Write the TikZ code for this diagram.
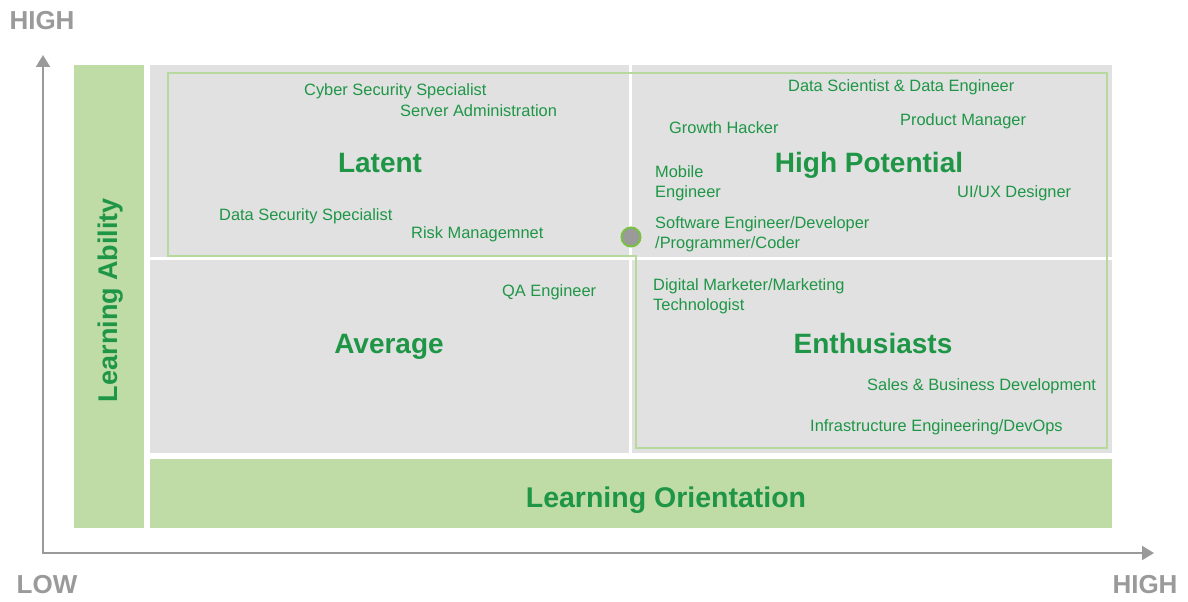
\documentclass[tikz,border=0pt]{standalone}
\usepackage{fontspec}
\setmainfont{Liberation Sans}
\usetikzlibrary{arrows.meta}
\definecolor{txtgreen}{HTML}{1E9646}
\definecolor{barfill}{HTML}{BFDBA6}
\definecolor{quadgray}{HTML}{E1E1E1}
\definecolor{outlinegreen}{HTML}{B7D99E}
\definecolor{axisgray}{HTML}{9A9A9A}
\definecolor{dotgreen}{HTML}{7AC143}
\tikzset{
  quad/.style={fill=quadgray, draw=none},
  bar/.style={fill=barfill, draw=none},
  role/.style={anchor=base west, inner sep=0pt, text=txtgreen, font=\fontsize{16.4}{19.5}\selectfont, align=left},
  qtitle/.style={anchor=base, inner sep=0pt, text=txtgreen, font=\fontsize{28}{30}\selectfont\bfseries},
  axtitle/.style={inner sep=0pt, text=txtgreen, font=\fontsize{27}{30}\selectfont\bfseries},
  axlabel/.style={inner sep=0pt, text=axisgray, font=\fontsize{26}{28}\selectfont\bfseries},
  axisline/.style={draw=axisgray, line width=2pt, {Triangle[width=14pt,length=12pt]}-{Triangle[width=14pt,length=12pt]}},
}
\begin{document}
\begin{tikzpicture}[x=1pt,y=-1pt]
\useasboundingbox (0,0) rectangle (1188,602);
% bars
\fill[bar] (74,65) rectangle (144,528);
\fill[bar] (150,459) rectangle (1112,528);
% quadrants
\fill[quad] (150,65) rectangle (629,257);
\fill[quad] (632,65) rectangle (1112,257);
\fill[quad] (150,260) rectangle (629,453);
\fill[quad] (632,260) rectangle (1112,453);
% outline
\draw[outlinegreen, line width=2pt] (168,73) -- (1107,73) -- (1107,448) -- (636,448) -- (636,256) -- (168,256) -- cycle;
% axes
\coordinate (ytip) at (43,55);
\coordinate (origin) at (43,553);
\coordinate (xtip) at (1154,553);
\draw[axisline] (ytip) -- (origin) -- (xtip);
\node[axlabel] (hy) at (42,21) {HIGH};
\node[axlabel] (lo) at (47,585) {LOW};
\node[axlabel] (hx) at (1145,585) {HIGH};
% axis titles
\node[axtitle, rotate=90] (la) at (111,300) {Learning Ability};
\node[axtitle, anchor=base, font=\fontsize{28.5}{30}\selectfont\bfseries] (lor) at (666,507) {Learning Orientation};
% quadrant titles
\node[qtitle] (lat) at (380,172) {Latent};
\node[qtitle] (hp) at (869,172) {High Potential};
\node[qtitle] (avg) at (389,353) {Average};
\node[qtitle] (ent) at (873,353) {Enthusiasts};
% roles
\node[role] (r1) at (304,95) {Cyber Security Specialist};
\node[role] (r2) at (400,116) {Server Administration};
\node[role] (r3) at (219,220) {Data Security Specialist};
\node[role] (r4) at (411,238) {Risk Managemnet};
\node[role] (r5) at (788,92) {Data Scientist \& Data Engineer};
\node[role] (r6) at (669,133) {Growth Hacker};
\node[role] (r7) at (900,125) {Product Manager};
\node[role] (r8) at (655,197) {Mobile\\Engineer};
\node[role] (r9) at (957,197) {UI/UX Designer};
\node[role] (r10) at (655,248) {Software Engineer/Developer\\/Programmer/Coder};
\node[role] (r11) at (502,296) {QA Engineer};
\node[role] (r12) at (653,310) {Digital Marketer/Marketing\\Technologist};
\node[role] (r13) at (867,390) {Sales \& Business Development};
\node[role] (r14) at (810,431) {Infrastructure Engineering/DevOps};
% dot
\node[circle, fill=axisgray, draw=dotgreen, line width=2pt, minimum size=19pt, inner sep=0pt] (dot) at (631,237) {};
\end{tikzpicture}
\end{document}
